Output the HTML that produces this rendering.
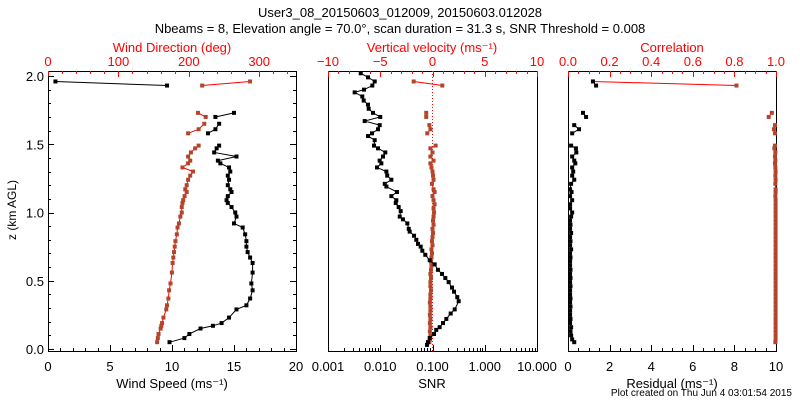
<!DOCTYPE html>
<html><head><meta charset="utf-8"><style>
body{margin:0;background:#fff;}
svg text{font-family:"Liberation Sans",sans-serif;}
</style></head><body>
<svg id="c" width="800" height="400" xmlns="http://www.w3.org/2000/svg">
<text x="400" y="17" font-size="13" text-anchor="middle">User3_08_20150603_012009, 20150603.012028</text>
<text x="400" y="33" font-size="13" text-anchor="middle">Nbeams = 8, Elevation angle = 70.0°, scan duration = 31.3 s, SNR Threshold = 0.008</text>
<text x="16" y="210" font-size="12" text-anchor="middle" transform="rotate(-90 16 210)">z (km AGL)</text>
<text x="792" y="396" font-size="10" text-anchor="end">Plot created on Thu Jun  4 03:01:54 2015</text>
</svg>
<script>
// Panel 1
const z1 = [1.96,1.93,null,1.73,1.70,null,1.65,1.61,1.58,null,1.49,1.47,1.44,1.41,1.38,1.36,1.33,1.30,1.27,1.24,1.20,1.17,1.15,1.12,1.09,1.07,1.04,1.00,0.97,0.92,0.89,0.84,0.79,0.75,0.71,0.67,0.63,0.56,0.48,0.43,0.37,0.32,0.29,0.23,0.19,0.17,0.15,0.11,0.08,0.05];
const windSpeed = [0.6,9.6,null,15.0,13.5,null,13.8,13.5,12.9,null,13.8,13.6,13.4,15.2,13.7,13.9,14.6,14.7,14.5,14.6,14.5,14.7,14.8,14.5,14.4,14.5,14.8,15.1,15.2,15.0,15.7,15.9,16.0,16.0,16.1,16.3,16.5,16.5,16.4,16.5,16.3,16.0,15.2,14.6,14.0,13.3,12.3,11.4,11.0,9.8];
const windDir = [287,219,null,213,224,null,222,214,199,null,214,209,203,199,202,199,191,206,202,199,197,195,197,194,192,191,190,190,188,186,184,183,181,180,179,178,177,176,174,172,171,169,168,164,162,161,160,157,156,155];
// Panel 2
const z2 = [2.02,1.99,1.96,1.93,1.90,1.88,1.85,1.82,1.79,1.76,1.73,1.70,1.67,1.64,1.61,1.58,1.56,1.53,1.49,1.47,1.44,1.41,1.38,1.36,1.33,1.30,1.27,1.24,1.21,1.19,1.15,1.12,1.09,1.07,1.04,1.01,0.97,0.95,0.92,0.88,0.86,0.83,0.80,0.77,0.75,0.72,0.69,0.65,0.62,0.58,0.55,0.52,0.49,0.45,0.42,0.38,0.35,0.29,0.26,0.22,0.19,0.16,0.14,0.11,0.08,0.05,0.03];
const snr = [0.00423,0.00583,0.00783,0.00705,0.00489,0.00324,0.00453,0.00482,0.00583,0.00601,0.00726,0.0100,0.00504,0.00975,0.00906,0.00695,0.00583,0.00783,0.00759,0.00906,0.0125,0.0113,0.00975,0.0105,0.00867,0.0131,0.0136,0.0163,0.0122,0.0131,0.0209,0.0163,0.0203,0.0198,0.0225,0.0246,0.0236,0.0272,0.0330,0.0351,0.0366,0.0443,0.0490,0.0528,0.0594,0.0638,0.0728,0.0884,0.110,0.127,0.152,0.176,0.204,0.236,0.258,0.298,0.317,0.266,0.223,0.184,0.159,0.137,0.118,0.107,0.0884,0.082,0.0785];
const zw = [1.96,1.93,null,1.73,1.70,null,1.64,1.61,1.58,null,1.49,1.47,1.44,1.41,1.38,1.36,1.33,1.30,1.27,1.24,1.21,1.17,1.15,1.12,1.09,1.06,1.03,1.00,0.97,0.94,0.91,0.88,0.85,0.82,0.79,0.76,0.73,0.70,0.67,0.64,0.61,0.58,0.55,0.52,0.49,0.46,0.43,0.40,0.37,0.34,0.31,0.28,0.25,0.22,0.19,0.16,0.13,0.10,0.07,0.05];
const vertVel = [-1.8,0.94,null,-0.6,-0.6,null,-0.3,-0.2,-0.5,null,0.3,-0.2,0,-0.2,0.1,-0.2,-0.1,0.0,0.05,0.1,-0.05,0.1,0.2,0,0.1,0.2,0.1,0.15,0.1,0.05,0.1,0.0,0.05,0.0,-0.05,0.0,-0.1,-0.05,-0.1,-0.15,-0.1,-0.15,-0.2,-0.15,-0.2,-0.2,-0.15,-0.2,-0.2,-0.25,-0.2,-0.2,-0.25,-0.2,-0.25,-0.2,-0.25,-0.2,-0.25,-0.3];
// Panel 3 (same heights as zw)
const residual = [1.2,1.35,null,0.72,0.87,null,0.3,0.53,0.2,null,0.15,0.38,0.4,0.2,0.3,0.35,0.2,0.25,0.2,0.3,0.15,0.1,0.17,0.1,0.2,0.1,0.1,0.2,0.15,0.1,0.12,0.1,0.15,0.1,0.12,0.1,0.15,0.1,0.12,0.1,0.1,0.12,0.1,0.12,0.1,0.12,0.1,0.1,0.12,0.1,0.12,0.1,0.1,0.12,0.1,0.15,0.12,0.15,0.2,0.3];
const correlation = [0.12,0.81,null,0.98,0.965,null,0.995,0.99,0.995,null,0.995,0.992,0.997,0.995,0.997,0.995,0.997,0.998,0.997,0.998,0.997,0.998,0.998,0.997,0.998,0.998,0.998,0.998,0.998,0.998,0.998,0.998,0.998,0.998,0.998,0.998,0.998,0.998,0.998,0.998,0.998,0.998,0.998,0.998,0.998,0.998,0.998,0.998,0.998,0.998,0.998,0.998,0.998,0.998,0.998,0.998,0.998,0.998,0.998,0.997];

const svg = document.getElementById('c');
const NS = 'http://www.w3.org/2000/svg';
const TOP = 71, BOT = 351;
const yS = z => 349 - 136.5 * z;
const BR = '#b4442a', RED = '#ff0000';
function mk(tag, attrs, txt) {
  const e = document.createElementNS(NS, tag);
  for (const k in attrs) e.setAttribute(k, attrs[k]);
  if (txt !== undefined) e.textContent = txt;
  svg.appendChild(e);
  return e;
}
function box(x0, x1, name) {
  const r = mk('rect', {x: x0 + 0.5, y: TOP + 0.5, width: x1 - x0, height: BOT - TOP, fill: 'none', stroke: '#000'});
  
  
}
function ticks(vals, xf, y, dir, len, color) {
  vals.forEach(v => {
    const x = Math.round(xf(v)) + 0.5;
    const l = mk('line', {x1: x, x2: x, y1: y, y2: y + dir * len, stroke: color});
    
    
  });
}
function labels(vals, texts, xf, y, color, name) {
  vals.forEach((v, i) => {
    const t = mk('text', {x: xf(v), y: y, 'font-size': 13, 'text-anchor': 'middle', fill: color}, texts[i]);
    
    
  });
}
function series(zs, vs, xf, lineColor, markColor, name) {
  let pts = [];
  const segs = [];
  zs.forEach((z, i) => {
    if (z === null || vs[i] === null) { if (pts.length) segs.push(pts); pts = []; return; }
    pts.push([xf(vs[i]), yS(z)]);
  });
  if (pts.length) segs.push(pts);
  segs.forEach(s => {
    if (s.length > 1) {
      const p = mk('polyline', {points: s.map(q => q.join(',')).join(' '), fill: 'none', stroke: lineColor, 'stroke-width': 1});
      
      
    }
    s.forEach(q => {
      const m = mk('rect', {x: q[0] - 2, y: q[1] - 2, width: 4, height: 4, fill: markColor});
      
      
    });
  });
}
function range(a, b, s) { const r = []; for (let v = a; v <= b + 1e-9; v += s) r.push(+v.toFixed(6)); return r; }

// Panel 1
const p1 = v => 48 + v * 12.4;
const p1d = v => 48 + v * 0.704;
box(48, 296, 'wind-panel-frame');
ticks(range(0, 20, 1), p1, BOT, -1, 3, '#000');
ticks(range(0, 20, 5), p1, BOT, -1, 6, '#000');
labels([0, 5, 10, 15, 20], ['0', '5', '10', '15', '20'], p1, 371, '#000', 'wind-speed-tick-label');
ticks(range(0, 340, 20), p1d, TOP, 1, 3, RED);
ticks([0, 100, 200, 300], p1d, TOP, 1, 6, RED);
labels([0, 100, 200, 300], ['0', '100', '200', '300'], p1d, 66, RED, 'wind-direction-tick-label');
range(0, 2, 0.1).forEach(v => {
  const y = Math.round(yS(v)) + 0.5, L = (Math.round(v * 10) % 5 === 0) ? 6 : 3;
  [[48, 1], [296, -1]].forEach(([x, d]) => {
    const l = mk('line', {x1: x, x2: x + d * L, y1: y, y2: y, stroke: '#000'});
    
    
  });
});
['0.0', '0.5', '1.0', '1.5', '2.0'].forEach((t, i) => {
  const e = mk('text', {x: 44, y: yS(i * 0.5) + 5, 'font-size': 13, 'text-anchor': 'end'}, t);
  
  
});
let t = mk('text', {x: 172, y: 388, 'font-size': 13, 'text-anchor': 'middle'}, 'Wind Speed (ms⁻¹)');
 
t = mk('text', {x: 172, y: 52, 'font-size': 13, 'text-anchor': 'middle', fill: RED}, 'Wind Direction (deg)');
 
series(z1, windDir, p1d, RED, BR, 'wind-direction');
series(z1, windSpeed, p1, '#000', '#000', 'wind-speed');

// Panel 2
const p2 = v => 328 + (Math.log10(v) + 3) * 52.25;
const p2w = v => 432.5 + v * 10.45;
box(328, 537, 'snr-panel-frame');
const minor = [];
[0.001, 0.01, 0.1, 1].forEach(d => { for (let k = 2; k <= 9; k++) minor.push(d * k); });
ticks(minor, p2, BOT, -1, 3, '#000');
ticks([0.001, 0.01, 0.1, 1, 10], p2, BOT, -1, 6, '#000');
labels([0.001, 0.01, 0.1, 1, 10], ['0.001', '0.010', '0.100', '1.000', '10.000'], p2, 371, '#000', 'snr-tick-label');
ticks(range(-10, 10, 1), p2w, TOP, 1, 3, RED);
ticks([-10, -5, 0, 5, 10], p2w, TOP, 1, 6, RED);
labels([-10, -5, 0, 5, 10], ['−10', '−5', '0', '5', '10'], p2w, 66, RED, 'vertical-velocity-tick-label');
t = mk('text', {x: 432, y: 388, 'font-size': 13, 'text-anchor': 'middle'}, 'SNR');
 
t = mk('text', {x: 432, y: 52, 'font-size': 13, 'text-anchor': 'middle', fill: RED}, 'Vertical velocity (ms⁻¹)');
 
const zl = mk('line', {x1: p2w(0), x2: p2w(0), y1: TOP, y2: BOT, stroke: RED, 'stroke-dasharray': '1,2'});
 
series(zw, vertVel, p2w, RED, BR, 'vertical-velocity');
series(z2, snr, p2, '#000', '#000', 'snr');

// Panel 3
const p3 = v => 568 + v * 20.8;
const p3c = v => 568 + v * 208;
box(568, 776, 'residual-panel-frame');
ticks(range(0, 10, 0.5), p3, BOT, -1, 3, '#000');
ticks([0, 2, 4, 6, 8, 10], p3, BOT, -1, 6, '#000');
labels([0, 2, 4, 6, 8, 10], ['0', '2', '4', '6', '8', '10'], p3, 371, '#000', 'residual-tick-label');
ticks(range(0, 1, 0.05), p3c, TOP, 1, 3, RED);
ticks([0, 0.2, 0.4, 0.6, 0.8, 1], p3c, TOP, 1, 6, RED);
labels([0, 0.2, 0.4, 0.6, 0.8, 1], ['0.0', '0.2', '0.4', '0.6', '0.8', '1.0'], p3c, 66, RED, 'correlation-tick-label');
t = mk('text', {x: 672, y: 388, 'font-size': 13, 'text-anchor': 'middle'}, 'Residual (ms⁻¹)');
 
t = mk('text', {x: 672, y: 52, 'font-size': 13, 'text-anchor': 'middle', fill: RED}, 'Correlation');
 
series(zw, correlation, p3c, RED, BR, 'correlation');
series(zw, residual, p3, '#000', '#000', 'residual');
</script>
</body></html>
